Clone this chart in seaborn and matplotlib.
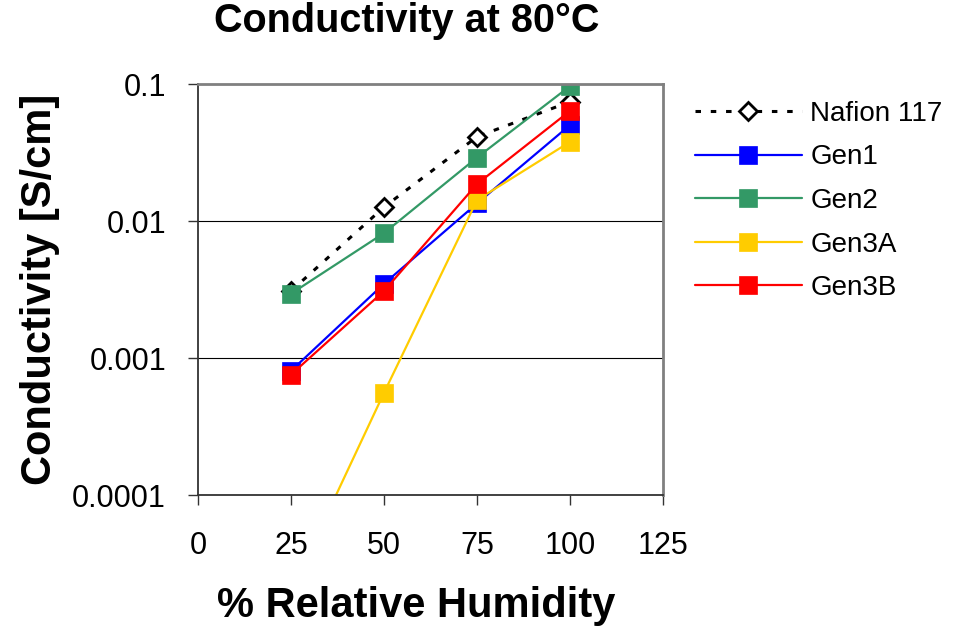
import pandas as pd
import matplotlib
matplotlib.use("Agg")
import matplotlib.pyplot as plt
import seaborn as sns

# valores (S/cm)
umidade = [25, 50, 75, 100]
nafion_117 = [0.0031, 0.0127, 0.0414, 0.0746]
gen1 = [0.00081, 0.0035, 0.0135, 0.0504]
gen2 = [0.00296, 0.0082, 0.0292, 0.097]
gen3a = [0.00002, 0.00056, 0.0143, 0.038]
gen3b = [0.00076, 0.0031, 0.0187, 0.064]

series = ["Nafion 117", "Gen1", "Gen2", "Gen3A", "Gen3B"]
valores = [nafion_117, gen1, gen2, gen3a, gen3b]
cores = ["black", "#0000FF", "#339966", "#FFCC00", "#FF0000"]

yticks = [0.0001, 0.001, 0.01, 0.1]
ytick_labels = ["0.0001", "0.001", "0.01", "0.1"]
xticks = [0, 25, 50, 75, 100, 125]

sns.set_style("white")
plt.rcParams["font.family"] = ["Liberation Sans", "DejaVu Sans"]
plt.rcParams["text.color"] = "black"
plt.rcParams["axes.labelcolor"] = "black"

fig = plt.figure(figsize=(9.58, 6.29), dpi=100)
ax = fig.add_axes([0.2067, 0.2126, 0.4854, 0.6534])

for nome, vals, cor in zip(series, valores, cores):
    df = pd.DataFrame({"x": umidade, "y": vals})
    if nome == "Nafion 117":
        sns.lineplot(data=df, x="x", y="y", ax=ax, color=cor, label=nome,
                     linestyle=(0, (1.8, 3.2)), linewidth=2.2, marker="D",
                     markersize=9.5, markerfacecolor="white",
                     markeredgecolor="black", markeredgewidth=2)
    else:
        sns.lineplot(data=df, x="x", y="y", ax=ax, color=cor, label=nome,
                     linewidth=1.6, marker="s", markersize=12.5,
                     markerfacecolor=cor, markeredgecolor=cor,
                     markeredgewidth=0.5)

ax.set_yscale("log")
ax.set_ylim(0.0001, 0.1)
ax.set_xlim(0, 125)
ax.set_yticks(yticks)
ax.set_yticklabels(ytick_labels)
ax.yaxis.set_minor_locator(matplotlib.ticker.NullLocator())
ax.set_xticks(xticks)
ax.set_xticklabels([str(t) for t in xticks])

ax.grid(False)
ax.yaxis.grid(True, which="major", color="black", linewidth=0.8)
ax.set_axisbelow(True)

for lado in ["top", "right"]:
    ax.spines[lado].set_color("#808080")
    ax.spines[lado].set_linewidth(2)
for lado in ["left", "bottom"]:
    ax.spines[lado].set_color("#333333")
    ax.spines[lado].set_linewidth(1.3)

ax.tick_params(axis="both", which="major", direction="out", length=7,
               width=1, color="#333333", labelsize=22, labelcolor="black")
ax.tick_params(axis="y", pad=16, left=True)
ax.tick_params(axis="x", pad=19, bottom=True)

ax.set_xlabel("")
ax.set_ylabel("Conductivity [S/cm]", fontsize=30, fontweight="bold",
              labelpad=9, color="black")

fig.text(407 / 958, 1 - 21 / 629, "Conductivity at 80°C", fontsize=28.5,
         fontweight="bold", ha="center", va="center", color="black")
fig.text(416 / 958, 1 - 606 / 629, "% Relative Humidity", fontsize=30,
         fontweight="bold", ha="center", va="center", color="black")

ax.legend_.remove()
handles, labels = ax.get_legend_handles_labels()
fig.legend(handles, labels, loc="upper left", bbox_to_anchor=(695 / 958, 1 - 101 / 629),
           frameon=False, fontsize=20, handlelength=3.85, handletextpad=0.3,
           labelspacing=0.63, borderpad=0, borderaxespad=0, numpoints=1)

fig.savefig("out.png", dpi=100, facecolor="white")
